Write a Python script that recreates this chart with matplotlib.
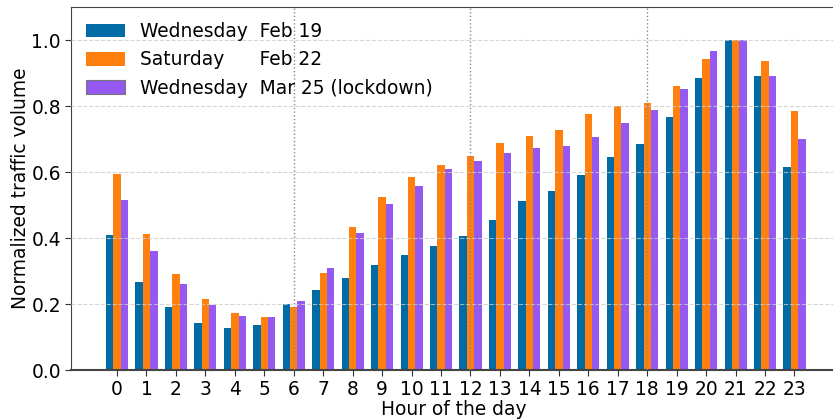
import matplotlib.pyplot as plt
import numpy as np

hours = list(range(24))
wed_feb19 = [0.408, 0.266, 0.190, 0.144, 0.126, 0.135, 0.200, 0.244, 0.278, 0.318, 0.348, 0.376,
             0.406, 0.455, 0.512, 0.542, 0.591, 0.645, 0.685, 0.767, 0.885, 1.000, 0.891, 0.615]
sat_feb22 = [0.593, 0.412, 0.291, 0.215, 0.172, 0.160, 0.190, 0.293, 0.433, 0.523, 0.584, 0.620,
             0.648, 0.688, 0.709, 0.727, 0.776, 0.800, 0.809, 0.861, 0.942, 1.000, 0.936, 0.785]
wed_mar25 = [0.515, 0.361, 0.260, 0.196, 0.164, 0.160, 0.208, 0.309, 0.414, 0.502, 0.558, 0.609,
             0.633, 0.658, 0.673, 0.679, 0.706, 0.748, 0.788, 0.852, 0.967, 1.000, 0.891, 0.700]
labels = ['Wednesday  Feb 19', 'Saturday      Feb 22', 'Wednesday  Mar 25 (lockdown)']
colors = ['#006BA4', '#FF800E', '#9558F0']

fs = 13.4

fig = plt.figure(figsize=(8.33, 4.2), dpi=100)
ax = fig.add_axes([0.085, 0.119, 0.92, 0.864])

x = np.arange(len(hours))
w = 0.25
series = [wed_feb19, sat_feb22, wed_mar25]
for i, (vals, lab, c) in enumerate(zip(series, labels, colors)):
    ax.bar(x + (i - 1) * w, vals, w, color=c, label=lab, zorder=2, linewidth=0)

ax.set_xlim(-1.57, 24.45)
ax.set_ylim(0, 1.1)
ax.set_xticks(x)
ax.set_xticklabels([str(h) for h in hours])
ax.set_yticks([0, 0.2, 0.4, 0.6, 0.8, 1.0])
ax.set_yticklabels(['0.0', '0.2', '0.4', '0.6', '0.8', '1.0'])
ax.tick_params(labelsize=fs, length=4, color='#333333', pad=3)

# horizontal grid and vertical separators
for yv in [0.2, 0.4, 0.6, 0.8, 1.0]:
    ax.axhline(yv, color='#cccccc', ls='--', lw=0.8, zorder=3, alpha=0.8)
for xv in [6, 12, 18]:
    ax.axvline(xv, color='#888888', ls=':', lw=1.0, zorder=3)

for s in ['left', 'bottom', 'top', 'right']:
    ax.spines[s].set_color('#444444')
ax.spines['bottom'].set_linewidth(1.5)

ax.set_xlabel('Hour of the day', fontsize=fs, labelpad=1)
ax.set_ylabel('Normalized traffic volume', fontsize=fs, labelpad=1)

leg = ax.legend(loc='upper left', fontsize=fs, frameon=False, handlelength=2.1,
                handleheight=0.75, labelspacing=0.5, borderaxespad=0.4)
leg.get_patches()[2].set_edgecolor('#777777')
leg.get_patches()[2].set_linewidth(0.8)

plt.savefig('out.png', dpi=100)
